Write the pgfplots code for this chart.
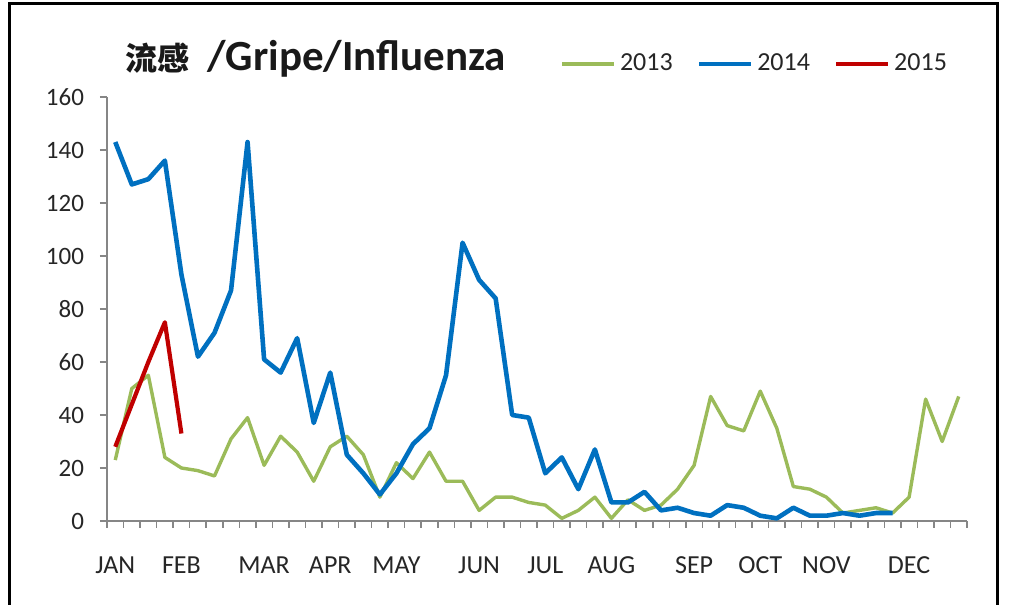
\documentclass[border=0pt]{standalone}
\usepackage{fontspec}
\setmainfont{Carlito}
\newfontfamily\cjk{Noto Sans CJK SC}
\usepackage{pgfplots}
\pgfplotsset{compat=1.18}
\usepackage{pgfplotstable}
\definecolor{g13}{HTML}{9BBB59}
\definecolor{b14}{HTML}{0070C0}
\definecolor{r15}{HTML}{C00000}
\definecolor{axgray}{HTML}{868686}
\pgfplotstableread{
w v
1 23
2 50
3 55
4 24
5 20
6 19
7 17
8 31
9 39
10 21
11 32
12 26
13 15
14 28
15 32
16 25
17 9
18 22
19 16
20 26
21 15
22 15
23 4
24 9
25 9
26 7
27 6
28 1
29 4
30 9
31 1
32 8
33 4
34 6
35 12
36 21
37 47
38 36
39 34
40 49
41 35
42 13
43 12
44 9
45 3
46 4
47 5
48 3
49 9
50 46
51 30
52 47
}\tabA
\pgfplotstableread{
w v
1 143
2 127
3 129
4 136
5 93
6 62
7 71
8 87
9 143
10 61
11 56
12 69
13 37
14 56
15 25
16 18
17 10
18 18
19 29
20 35
21 55
22 105
23 91
24 84
25 40
26 39
27 18
28 24
29 12
30 27
31 7
32 7
33 11
34 4
35 5
36 3
37 2
38 6
39 5
40 2
41 1
42 5
43 2
44 2
45 3
46 2
47 3
48 3
}\tabB
\pgfplotstableread{
w v
1 28
2 44
3 60
4 75
5 33
}\tabC
\begin{document}
\begin{tikzpicture}
\useasboundingbox (-53.5pt,-42pt) rectangle (451pt,260.5pt);
\draw[black, line width=1.5pt] (-48.5pt,-60pt) -- (-48.5pt,258.5pt) -- (445pt,258.5pt) -- (445pt,-60pt);
\begin{axis}[
  at={(0pt,0pt)}, anchor=south west,
  scale only axis, width=430pt, height=212pt,
  xmin=0.5, xmax=52.5, ymin=0, ymax=160,
  axis x line=bottom, axis y line=left,
  axis line style={-, axgray, line width=0.8pt},
  tick style={axgray, line width=0.8pt},
  tick align=outside, major tick length=3.5pt,
  xtick={0.5,1.5,...,52.5}, xticklabels={},
  extra x ticks={1,5,10,14,18,23,27,31,36,40,44,49},
  extra x tick labels={JAN,FEB,MAR,APR,MAY,JUN,JUL,AUG,SEP,OCT,NOV,DEC},
  extra x tick style={major tick length=0pt, tick label style={yshift=-14.5pt, font=\fontsize{13}{15}\selectfont}},
  ytick={0,20,...,160},
  yticklabel style={xshift=-4.5pt},
  /pgf/number format/assume math mode=true,
  tick label style={font=\fontsize{12.5}{15}\selectfont, text=black!85},
  legend style={draw=none, fill=none, at={(0.527,1.078)}, anchor=west,
    font=\fontsize{13}{15}\selectfont, text=black!85,
    legend columns=3, inner sep=0pt,
    /tikz/every even column/.append style={column sep=10pt}},
  legend image code/.code={\draw[#1] (0pt,0pt) -- (26pt,0pt);},
  line join=round,
]
\addplot[g13, line width=1.7pt] table[x=w,y=v] {\tabA};
\addlegendentry{2013}
\addplot[b14, line width=2.3pt] table[x=w,y=v] {\tabB};
\addlegendentry{2014}
\addplot[r15, line width=2.1pt] table[x=w,y=v] {\tabC};
\addlegendentry{2015}
\end{axis}
\node[anchor=base west, inner sep=0pt, text=black!90] at (9pt,225pt)
  {\fontsize{16}{20}\selectfont\cjk\bfseries 流感\fontsize{21.5}{25}\selectfont\normalfont\bfseries\hspace{9pt}/Gripe/Influenza};
\end{tikzpicture}
\end{document}
